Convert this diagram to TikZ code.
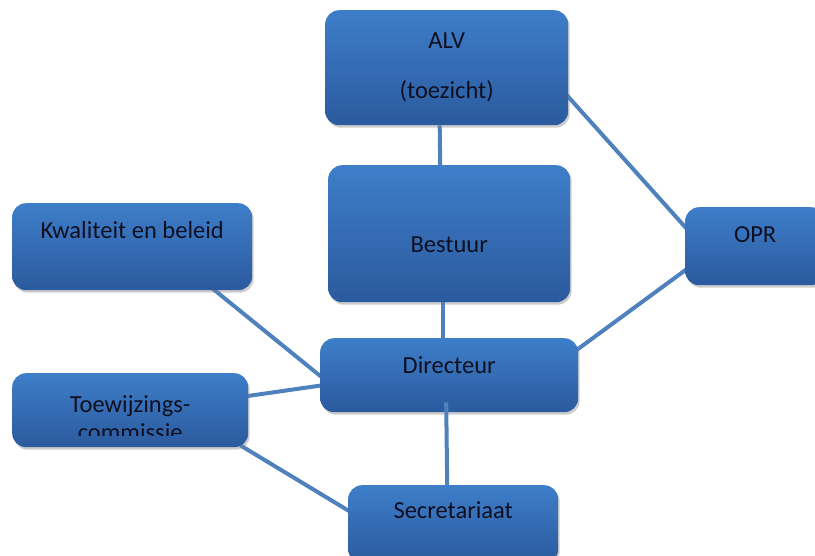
\documentclass[tikz,border=0pt]{standalone}
\usepackage{fontspec}
\setmainfont{Carlito}
\usetikzlibrary{shadows, backgrounds, calc}
\definecolor{boxtop}{RGB}{62,126,201}
\definecolor{boxbot}{RGB}{43,90,158}
\definecolor{linkcol}{RGB}{79,129,189}
\definecolor{boxtext}{RGB}{14,16,34}
\tikzstyle{box} = [rectangle, rounded corners=14pt, anchor=north west, inner sep=0pt, top color=boxtop, bottom color=boxbot, draw=none, drop shadow={opacity=0.4, shadow xshift=1.5pt, shadow yshift=-2.5pt}, text=boxtext, font=\fontsize{24.5}{30}\selectfont]
\tikzstyle{link} = [line width=4pt, linkcol]

\begin{document}
\begin{tikzpicture}[x=1pt, y=-1pt]

	\useasboundingbox (0,0) rectangle (815,556);
	\clip (0,0) rectangle (815,556);

	% Top: members and board
	\node (alv) [box, minimum width=243pt, minimum height=115pt, align=center] at (325,10) {ALV\\[20pt](toezicht)};
	\node (bes) [box, minimum width=242pt, text height=87pt, text depth=50pt] at (328,165) {Bestuur};

	% Side boxes
	\node (kwa) [box, minimum width=240pt, text height=35pt, text depth=52pt] at (12,203) {Kwaliteit en beleid};
	\node (opr) [box, minimum width=140pt, text height=35pt, text depth=43pt] at (685,207) {OPR};
	\node (toe) [box, minimum width=236pt, text height=39pt, text depth=35pt,
		path picture={
			\clip (path picture bounding box.north west) rectangle ($(path picture bounding box.south east)+(0,-12)$);
			\node [anchor=base, inner sep=0pt, text=boxtext, font=\fontsize{24.5}{30}\selectfont] at ($(path picture bounding box.north)+(0,67)$) {commissie};
		}] at (12,373) {Toewijzings-};

	% Office
	\node (dir) [box, minimum width=258pt, text height=35pt, text depth=39pt] at (320,338) {Directeur};
	\node (sec) [box, minimum width=210pt, text height=33pt, text depth=45pt] at (348,485) {Secretariaat};

	% Connections
	\begin{pgfonlayer}{background}
		\draw[link] ($(alv.south)+(-7,0)$) -- ($(bes.north)+(-9,0)$);
		\draw[link] ($(bes.south)+(-6,0)$) -- ($(dir.north)+(-6,0)$);
		\draw[link] ($(alv.east)+(-2,27)$) -- ($(opr.west)+(3,-16)$);
		\draw[link] ($(dir.east)+(-2,-25)$) -- ($(opr.west)+(3,22)$);
		\draw[link] ($(kwa.south east)+(-40,-2)$) -- ($(dir.west)+(3,3)$);
		\draw[link] ($(toe.east)+(-2,-14)$) -- ($(dir.west)+(3,10)$);
		\draw[link] ($(toe.south east)+(-8,-2)$) -- ($(sec.west)+(3,-12)$);
	\end{pgfonlayer}
	\draw[link] ($(dir.south)+(-3,-10)$) -- ($(sec.north)+(-6,0)$);

\end{tikzpicture}
\end{document}
